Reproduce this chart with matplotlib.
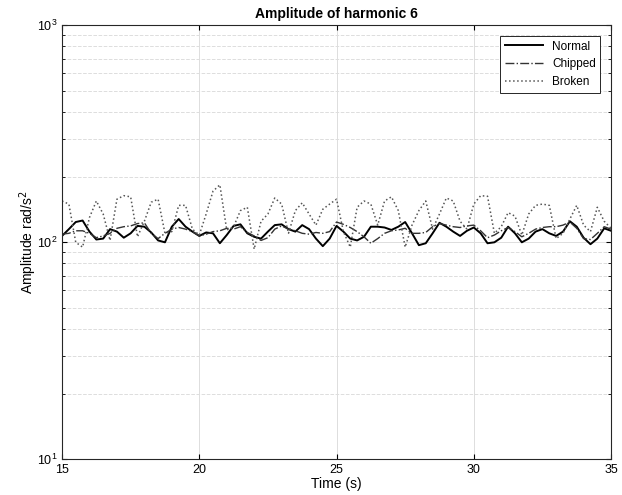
import numpy as np
import matplotlib
matplotlib.use("Agg")
from matplotlib import pyplot as plt

plt.rcParams['font.family'] = ['Liberation Sans', 'DejaVu Sans']

# time axis (s), one sample every 0.25 s
t = np.arange(15, 35.01, 0.25)

normal = [107, 115, 124, 126, 112, 103, 104, 115, 112, 105, 110, 119, 118, 111, 102, 100,
          118, 128, 118, 112, 107, 111, 110, 99, 108, 119, 121, 110, 106, 104, 112, 120,
          121, 115, 112, 120, 115, 104, 96, 104, 119, 112, 104, 102, 106, 118, 118, 117,
          114, 118, 124, 110, 97, 99, 110, 123, 118, 112, 107, 113, 117, 110, 99, 100,
          105, 118, 110, 100, 104, 112, 115, 110, 107, 112, 125, 118, 105, 98, 104, 116, 113]

chipped = [109, 110, 113, 113, 110, 105, 107, 110, 116, 118, 119, 122, 123, 110, 104, 110,
           115, 117, 115, 112, 107, 109, 112, 113, 116, 115, 118, 111, 107, 102, 105, 115,
           119, 115, 113, 110, 109, 111, 110, 112, 124, 121, 117, 112, 106, 99, 104, 110,
           113, 114, 116, 110, 110, 111, 118, 122, 120, 118, 117, 119, 120, 113, 105, 108,
           113, 117, 112, 106, 110, 115, 117, 118, 118, 120, 124, 116, 104, 103, 110, 118, 115]

broken = [155, 150, 100, 95, 130, 155, 135, 102, 158, 164, 162, 106, 125, 153, 158, 110,
          112, 148, 148, 115, 108, 135, 172, 184, 114, 118, 140, 145, 93, 125, 135, 160,
          150, 110, 140, 152, 135, 120, 142, 150, 158, 112, 95, 145, 155, 150, 120, 155,
          162, 140, 95, 120, 140, 155, 115, 135, 160, 155, 125, 115, 150, 164, 163, 110,
          118, 137, 132, 108, 135, 148, 150, 148, 104, 110, 128, 148, 120, 112, 145, 125, 116]

fig = plt.figure(figsize=(6.22, 4.95), dpi=100)
ax = fig.add_axes([0.0997, 0.072, 0.8827, 0.877])

ax.semilogy(t, normal, '-', color='black', lw=1.4, label='Normal')
ax.semilogy(t, chipped, '-.', color='#333333', lw=1.0, label='Chipped')
ax.semilogy(t, broken, ':', color='#555555', lw=1.1, label='Broken')

ax.set_xlim(15, 35)
ax.set_ylim(10, 1000)
ax.set_xticks([15, 20, 25, 30, 35])

# MATLAB-like grid: solid majors, dashed minors on the log axis
ax.grid(True, which='major', color='#dddddd', lw=0.7, ls='-')
ax.yaxis.grid(True, which='minor', color='#dddddd', lw=0.7, ls='--')
ax.set_axisbelow(True)

ax.tick_params(which='both', direction='in', top=True, right=True, labelsize=9, pad=3)
for s in ax.spines.values():
    s.set_linewidth(0.8)
    s.set_color('#262626')

ax.set_title('Amplitude of harmonic 6', fontsize=10, fontweight='bold', pad=5)
ax.set_xlabel('Time (s)', fontsize=10, labelpad=1)
ax.set_ylabel('Amplitude rad/s$^2$', fontsize=10, labelpad=-1)

leg = ax.legend(loc='upper right', fontsize=8.5, fancybox=False, framealpha=1,
                edgecolor='#262626', borderaxespad=0.9, handlelength=3.2)
leg.get_frame().set_linewidth(0.7)

plt.savefig('out.png', dpi=100)
plt.close()
